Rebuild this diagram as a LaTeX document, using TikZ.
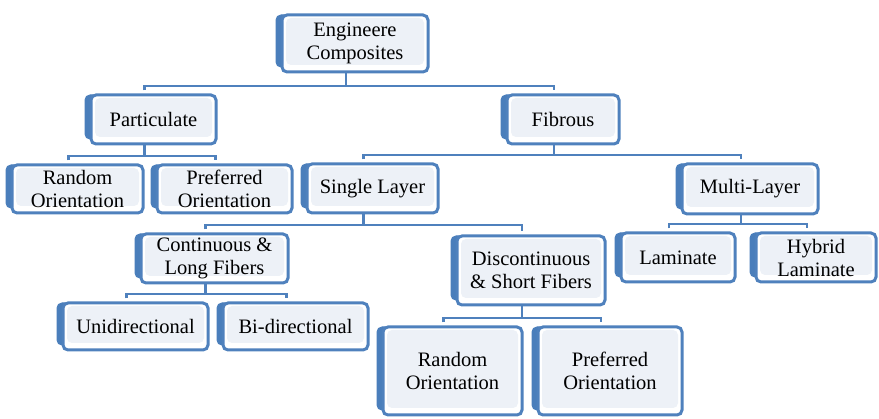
\documentclass[tikz,border=0pt]{standalone}
\usepackage{fontspec}
\setmainfont{Liberation Serif}
\usetikzlibrary{backgrounds,calc}
\definecolor{cblue}{HTML}{4F81BD}
\definecolor{tabblue}{HTML}{4A7EBB}
\definecolor{innerfill}{HTML}{EDF1F7}
\tikzset{
  frontbox/.style={draw=cblue, line width=3pt, rounded corners=5pt, fill=white,
    inner sep=0pt, align=center, font=\fontsize{20.5}{23}\selectfont,
    path picture={\fill[innerfill] ([shift={(4pt,7pt)}]path picture bounding box.south west)
      rectangle ([shift={(-4pt,-3pt)}]path picture bounding box.north east);}},
  tabbox/.style={draw=tabblue, fill=tabblue, line width=1pt, rounded corners=5pt, inner sep=0pt},
  conn/.style={draw=cblue, line width=2.5pt}
}
\newcommand\cbox[6]{%
  \node[tabbox, minimum width=#4pt-6pt, minimum height=#5pt-5pt] (#1T) at (#2-9,#3-2.5) {};
  \node[frontbox, minimum width=#4pt, minimum height=#5pt] (#1) at (#2,#3) {#6};}
\newcommand\bus[3]{%
  \draw[conn] (#1.south -| #1T.north) -- ([yshift=8.5pt]#2T.north -| #1T.north);
  \draw[conn] ([yshift=4pt]#2T.north) -- ([yshift=8.5pt]#2T.north) -| ([yshift=4pt]#3T.north);}
\begin{document}
\begin{tikzpicture}[x=1pt,y=-1pt]
\useasboundingbox (0,0) rectangle (879,419);
\cbox{root}{355}{43.5}{146}{57}{Engineere\\Composites}
\cbox{part}{153.5}{119.5}{125}{49}{Particulate}
\cbox{fib}{563}{119.5}{112}{49}{Fibrous}
\cbox{randa}{77.5}{189}{131}{48}{Random\\Orientation}
\cbox{prefa}{224.5}{189}{135}{48}{Preferred\\Orientation}
\cbox{single}{372.5}{188.5}{131}{49}{Single Layer}
\cbox{multi}{750}{189}{136}{50}{Multi-Layer}
\cbox{cont}{214.5}{258.5}{147}{49}{Continuous \&\\Long Fibers}
\cbox{disc}{531}{270.5}{148}{69}{Discontinuous\\\& Short Fibers}
\cbox{lam}{678}{257.5}{114}{49}{Laminate}
\cbox{hyb}{816}{257.5}{120}{49}{Hybrid\\Laminate}
\cbox{uni}{135.5}{326.5}{145}{47}{Unidirectional}
\cbox{bi}{295.5}{326.5}{145}{47}{Bi-directional}
\cbox{randb}{452.5}{371}{139}{88}{Random\\Orientation}
\cbox{prefb}{610}{371}{144}{88}{Preferred\\Orientation}
\begin{scope}[on background layer]
\bus{root}{part}{fib}
\bus{part}{randa}{prefa}
\bus{fib}{single}{multi}
\bus{single}{cont}{disc}
\bus{multi}{lam}{hyb}
\bus{cont}{uni}{bi}
\bus{disc}{randb}{prefb}
\end{scope}
\end{tikzpicture}
\end{document}
